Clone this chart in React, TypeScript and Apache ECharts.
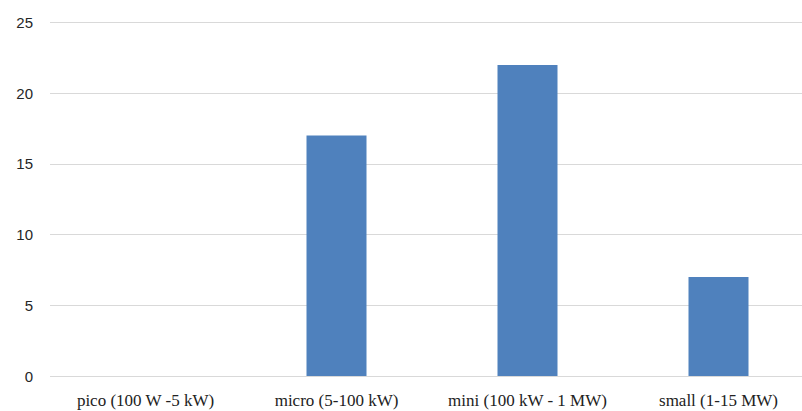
import React, { useEffect, useRef } from "react";
import * as echarts from "echarts";

const categories = ["pico (100 W -5 kW)", "micro (5-100 kW)", "mini (100 kW - 1 MW)", "small (1-15 MW)"];
const values = [0, 17, 22, 7];
const yTicks = { min: 0, max: 25, interval: 5 };

export default function App() {
  const ref = useRef<HTMLDivElement>(null);
  useEffect(() => {
    if (!ref.current) return;
    const chart = echarts.init(ref.current, undefined, { renderer: "svg" });
    chart.setOption({
      animation: false,
      backgroundColor: "#ffffff",
      grid: { left: 50, right: 0, top: 22.5, bottom: 35, containLabel: false },
      xAxis: {
        type: "category",
        data: categories,
        axisLine: { show: false },
        axisTick: { show: false },
        axisLabel: {
          interval: 0,
          margin: 16,
          color: "#222222",
          fontFamily: "'Liberation Serif', 'DejaVu Serif', serif",
          fontSize: 17,
          hideOverlap: false,
        },
      },
      yAxis: {
        type: "value",
        min: yTicks.min,
        max: yTicks.max,
        interval: yTicks.interval,
        axisLine: { show: false },
        axisTick: { show: false },
        splitLine: { lineStyle: { color: "#d9d9d9", width: 1 } },
        axisLabel: {
          margin: 17,
          color: "#262626",
          fontFamily: "'Liberation Sans', Arial, sans-serif",
          fontSize: 15,
        },
      },
      series: [
        {
          type: "bar",
          data: values,
          barWidth: 60,
          itemStyle: { color: "#4f81bd" },
        },
      ],
    });
    return () => chart.dispose();
  }, []);
  return (
    <div style={{ position: "fixed", left: 0, top: 0, width: 802, height: 411, overflow: "hidden", background: "#fff" }}>
      <div ref={ref} style={{ width: 814, height: 411 }} />
    </div>
  );
}
